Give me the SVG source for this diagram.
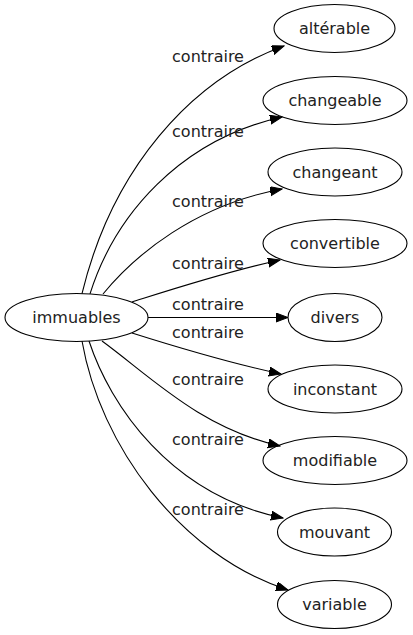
<svg xmlns="http://www.w3.org/2000/svg" width="413" height="635" viewBox="0 0 413 635">
<defs>
<marker id="ah" markerWidth="13" markerHeight="11" refX="12" refY="4.5" orient="auto" markerUnits="userSpaceOnUse">
<path d="M0,0 L12,4.5 L0,9 Z" fill="#000" stroke="#000" stroke-width="1"/>
</marker>
<style>
.n ellipse{fill:none;stroke:#000;stroke-width:1.1}
text{font-family:"DejaVu Sans",sans-serif;font-size:16px;fill:#222;text-anchor:middle}
.e path{fill:none;stroke:#000;stroke-width:1.1;marker-end:url(#ah)}
</style>
</defs>
<rect width="413" height="635" fill="#fff"/>
<g id="edges" class="e">
<path d="M82,293.6 C112,170 190,80 284,46"/>
<path d="M90,293.8 C115,215 180,140 282,117"/>
<path d="M103,294 C135,255 195,205 282,189"/>
<path d="M132,302 C170,290 225,272 280,260"/>
<path d="M148,317.5 L288,317.5"/>
<path d="M132,333 C170,345 225,362 281,374"/>
<path d="M102,341 C150,376 200,428 280,446"/>
<path d="M89,341 C110,405 170,495 283,518"/>
<path d="M82,341 C100,445 180,555 288,590"/>
</g>
<g id="labels">
<text x="208" y="62">contraire</text>
<text x="208" y="137">contraire</text>
<text x="208" y="207">contraire</text>
<text x="208" y="269">contraire</text>
<text x="208" y="310">contraire</text>
<text x="208" y="338">contraire</text>
<text x="208" y="385">contraire</text>
<text x="208" y="445">contraire</text>
<text x="208" y="515">contraire</text>
</g>
<g id="immuables" class="n"><ellipse cx="76.5" cy="317.5" rx="71.5" ry="24"/><text x="76.5" y="323">immuables</text></g>
<g id="alterable" class="n"><ellipse cx="334.5" cy="28.5" rx="60.5" ry="24"/><text x="334.5" y="34">altérable</text></g>
<g id="changeable" class="n"><ellipse cx="335" cy="100.5" rx="72" ry="24"/><text x="335" y="106">changeable</text></g>
<g id="changeant" class="n"><ellipse cx="335" cy="172" rx="67" ry="24"/><text x="335" y="177.5">changeant</text></g>
<g id="convertible" class="n"><ellipse cx="335" cy="243.5" rx="72" ry="24"/><text x="335" y="249">convertible</text></g>
<g id="divers" class="n"><ellipse cx="335" cy="317.5" rx="47" ry="24"/><text x="335" y="323">divers</text></g>
<g id="inconstant" class="n"><ellipse cx="335" cy="389" rx="67" ry="24"/><text x="335" y="394.5">inconstant</text></g>
<g id="modifiable" class="n"><ellipse cx="335" cy="460.5" rx="72" ry="24"/><text x="335" y="466">modifiable</text></g>
<g id="mouvant" class="n"><ellipse cx="334.5" cy="532" rx="57" ry="24"/><text x="334.5" y="537.5">mouvant</text></g>
<g id="variable" class="n"><ellipse cx="334.5" cy="604.5" rx="57" ry="24"/><text x="334.5" y="610">variable</text></g>
</svg>
